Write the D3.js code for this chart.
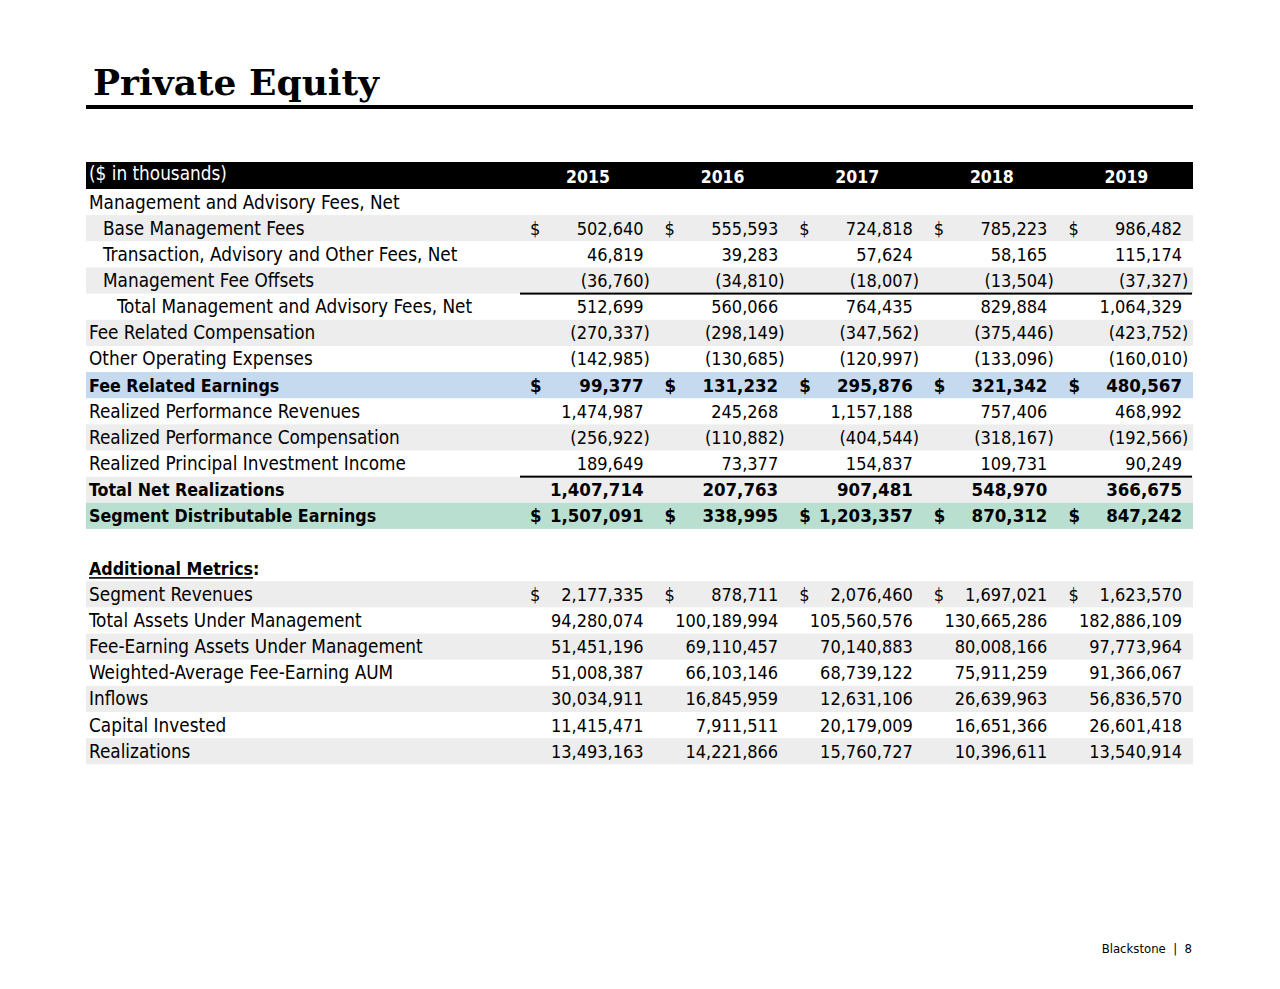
<!DOCTYPE html>
<html><head><meta charset="utf-8">
<script src="https://cdn.jsdelivr.net/npm/d3@7"></script>
<style>
html,body{margin:0;padding:0;background:#fff;}
svg{display:block;}
</style></head>
<body>
<svg id="c" width="1280" height="989"></svg>
<script>
// ---- data ----
const years = ["2015","2016","2017","2018","2019"];
const unitLabel = "($ in thousands)";
const title = "Private Equity";
const footer = "Blackstone  |  8";

const baseManagementFees   = [502640, 555593, 724818, 785223, 986482];
const transactionFees      = [46819, 39283, 57624, 58165, 115174];
const managementFeeOffsets = [-36760, -34810, -18007, -13504, -37327];
const totalManagementFees  = [512699, 560066, 764435, 829884, 1064329];
const feeRelatedComp       = [-270337, -298149, -347562, -375446, -423752];
const otherOperatingExp    = [-142985, -130685, -120997, -133096, -160010];
const feeRelatedEarnings   = [99377, 131232, 295876, 321342, 480567];
const realizedPerfRevenues = [1474987, 245268, 1157188, 757406, 468992];
const realizedPerfComp     = [-256922, -110882, -404544, -318167, -192566];
const realizedPrincipalInc = [189649, 73377, 154837, 109731, 90249];
const totalNetRealizations = [1407714, 207763, 907481, 548970, 366675];
const segmentDE            = [1507091, 338995, 1203357, 870312, 847242];
const segmentRevenues      = [2177335, 878711, 2076460, 1697021, 1623570];
const totalAUM             = [94280074, 100189994, 105560576, 130665286, 182886109];
const feeEarningAUM        = [51451196, 69110457, 70140883, 80008166, 97773964];
const weightedAvgFEAUM     = [51008387, 66103146, 68739122, 75911259, 91366067];
const inflows              = [30034911, 16845959, 12631106, 26639963, 56836570];
const capitalInvested      = [11415471, 7911511, 20179009, 16651366, 26601418];
const realizations         = [13493163, 14221866, 15760727, 10396611, 13540914];

// row definitions
const rows = [
  {label:"Management and Advisory Fees, Net", values:null, indent:0},
  {label:"Base Management Fees", values:baseManagementFees, indent:1, dollar:true, fill:"gray"},
  {label:"Transaction, Advisory and Other Fees, Net", values:transactionFees, indent:1},
  {label:"Management Fee Offsets", values:managementFeeOffsets, indent:1, fill:"gray", rule:true},
  {label:"Total Management and Advisory Fees, Net", values:totalManagementFees, indent:2},
  {label:"Fee Related Compensation", values:feeRelatedComp, indent:0, fill:"gray"},
  {label:"Other Operating Expenses", values:otherOperatingExp, indent:0},
  {label:"Fee Related Earnings", values:feeRelatedEarnings, indent:0, bold:true, dollar:true, fill:"blue"},
  {label:"Realized Performance Revenues", values:realizedPerfRevenues, indent:0},
  {label:"Realized Performance Compensation", values:realizedPerfComp, indent:0, fill:"gray"},
  {label:"Realized Principal Investment Income", values:realizedPrincipalInc, indent:0, rule:true},
  {label:"Total Net Realizations", values:totalNetRealizations, indent:0, bold:true, fill:"gray"},
  {label:"Segment Distributable Earnings", values:segmentDE, indent:0, bold:true, dollar:true, fill:"green"},
  {label:"", values:null, indent:0},
  {label:"Additional Metrics", values:null, indent:0, bold:true, heading:true},
  {label:"Segment Revenues", values:segmentRevenues, indent:0, dollar:true, fill:"gray"},
  {label:"Total Assets Under Management", values:totalAUM, indent:0},
  {label:"Fee-Earning Assets Under Management", values:feeEarningAUM, indent:0, fill:"gray"},
  {label:"Weighted-Average Fee-Earning AUM", values:weightedAvgFEAUM, indent:0},
  {label:"Inflows", values:inflows, indent:0, fill:"gray"},
  {label:"Capital Invested", values:capitalInvested, indent:0},
  {label:"Realizations", values:realizations, indent:0, fill:"gray"}
];

const fills = {gray:"#ededed", blue:"#c5d9ef", green:"#b9dfd0"};

// ---- layout ----
const svg = d3.select("#c");
const font = "'DejaVu Sans Condensed', 'DejaVu Sans', sans-serif";
const fsLabel = 18.8, fsLabelBold = 17.7, fsNum = 18, fsNumBold = 18.5;
const left = 86, right = 1193;
const x = d3.scaleBand().domain(years).range([510, 1183]).padding(0);
const y = d3.scaleBand().domain(d3.range(rows.length)).range([189, 189 + rows.length*26.15]).padding(0);
const fmt = d3.format(",");

// title
svg.append("text").attr("x",93).attr("y",95)
  .attr("font-family","'DejaVu Serif', serif").attr("font-weight","bold")
  .attr("font-size",36).attr("fill","#000").text(title);
svg.append("rect").attr("x",86).attr("y",105).attr("width",1107).attr("height",4).attr("fill","#000");

// header band
svg.append("rect").attr("x",left).attr("y",162).attr("width",right-left).attr("height",27).attr("fill","#000");
svg.append("text").attr("x",89).attr("y",180).attr("font-family",font).attr("font-size",fsLabel)
  .attr("fill","#fff").text(unitLabel);
svg.selectAll("text.yr").data(years).join("text").attr("class","yr")
  .attr("x",d=>x(d)+78).attr("y",183).attr("text-anchor","middle")
  .attr("font-family",font).attr("font-size",17.5).attr("font-weight","bold").attr("fill","#fff").text(d=>d);

// row fills
const g = svg.append("g");
g.selectAll("rect.bg").data(rows.map((r,i)=>({r,i})).filter(d=>d.r.fill)).join("rect")
  .attr("class","bg").attr("x",left).attr("y",d=>y(d.i)).attr("width",right-left)
  .attr("height",y.bandwidth()).attr("fill",d=>fills[d.r.fill]);

// labels and values
const base = 19.5;
rows.forEach((r,i)=>{
  const ty = y(i) + base;
  if (r.heading) {
    const t = svg.append("text").attr("x",89).attr("y",ty).attr("font-family",font)
      .attr("font-size",fsLabelBold).attr("font-weight","bold").attr("fill","#000");
    t.append("tspan").text(r.label);
    t.append("tspan").text(":");
    const w = t.select("tspan").node().getComputedTextLength();
    svg.append("rect").attr("x",89).attr("y",ty+2.5).attr("width",w).attr("height",1.6).attr("fill","#000");
  } else if (r.label) {
    svg.append("text").attr("x",89 + r.indent*14).attr("y",ty).attr("font-family",font)
      .attr("font-size",r.bold?fsLabelBold:fsLabel).attr("font-weight",r.bold?"bold":"normal")
      .attr("fill","#000").text(r.label);
  }
  if (r.values) {
    const nfs = r.bold ? fsNumBold : fsNum;
    const cells = svg.append("g").selectAll("g").data(r.values.map((v,j)=>({v,yr:years[j]}))).join("g");
    cells.append("text").attr("x",d=>x(d.yr)+x.bandwidth()-1).attr("y",ty).attr("text-anchor","end")
      .attr("font-family",font).attr("font-size",nfs).attr("font-weight",r.bold?"bold":"normal")
      .attr("fill","#000").text(d=>d.v<0 ? "("+fmt(-d.v) : fmt(d.v));
    cells.filter(d=>d.v<0).append("text").attr("x",d=>x(d.yr)+x.bandwidth()-1).attr("y",ty)
      .attr("font-family",font).attr("font-size",nfs).attr("fill","#000").text(")");
    if (r.dollar) {
      cells.append("text").attr("x",d=>x(d.yr)+20).attr("y",ty)
        .attr("font-family",font).attr("font-size",nfs).attr("font-weight",r.bold?"bold":"normal")
        .attr("fill","#000").text("$");
    }
  }
  if (r.rule) {
    svg.append("rect").attr("x",520).attr("y",y(i)+y.bandwidth()-1).attr("width",right-1-520)
      .attr("height",2).attr("fill","#000");
  }
});

// footer
svg.append("text").attr("x",1192).attr("y",953).attr("text-anchor","end")
  .attr("font-family",font).attr("font-size",13).attr("fill","#000")
  .style("white-space","pre").text(footer);
</script>
</body></html>
